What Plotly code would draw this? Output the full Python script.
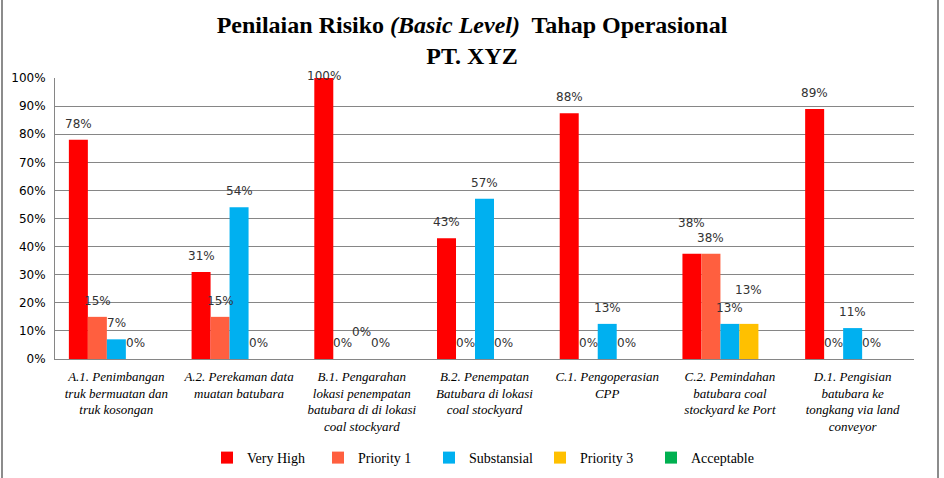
import plotly.graph_objects as go

categories = [
    "A.1. Penimbangan<br>truk bermuatan dan<br>truk kosongan",
    "A.2. Perekaman data<br>muatan batubara",
    "B.1. Pengarahan<br>lokasi penempatan<br>batubara di di lokasi<br>coal stockyard",
    "B.2. Penempatan<br>Batubara di lokasi<br>coal stockyard",
    "C.1. Pengoperasian<br>CPP",
    "C.2. Pemindahan<br>batubara coal<br>stockyard ke Port",
    "D.1. Pengisian<br>batubara ke<br>tongkang via land<br>conveyor",
]
very_high = [0.78, 0.31, 1.00, 0.43, 0.875, 0.375, 0.89]
priority_1 = [0.15, 0.15, 0.0, 0.0, 0.0, 0.375, 0.0]
substansial = [0.07, 0.54, 0.0, 0.57, 0.125, 0.125, 0.11]
priority_3 = [0.0, 0.0, 0.0, 0.0, 0.0, 0.125, 0.0]
acceptable = [None, None, None, None, None, None, None]

series_names = ["Very High", "Priority 1", "Substansial", "Priority 3", "Acceptable"]
series_values = [very_high, priority_1, substansial, priority_3, acceptable]
series_colors = ["#FF0000", "#FF5F3F", "#00B0F0", "#FFC000", "#00B050"]

SERIF = "'Liberation Serif', 'Times New Roman', Times, serif"

# label placement (pixels above bar top); a few labels are staggered as in the source
default_lift = 16
lift_override = {("Very High", 2): 2, ("Substansial", 2): 27,
                 ("Very High", 5): 31, ("Priority 3", 5): 34}

W, H = 944, 478
L, R, T, B = 55, 30, 78, 119
pw, ph = W - L - R, H - T - B
bargap = 0.226
n_series = len(series_names)
bar_px = pw / len(categories) * (1 - bargap) / n_series


def px_x(x):
    return (x - L) / pw


def px_y(y):
    return (H - B - y) / ph


fig = go.Figure()
annotations = []
for si, (name, vals, col) in enumerate(zip(series_names, series_values, series_colors)):
    fig.add_trace(go.Bar(
        name=name, x=categories, y=vals, marker_color=col,
        marker_line_width=0, textposition="none",
    ))
    for ci, v in enumerate(vals):
        if v is None:
            continue
        annotations.append(dict(
            x=categories[ci], y=v, xref="x", yref="y",
            text=f"{round(v * 100 + 1e-9):.0f}%", showarrow=False,
            xshift=(si - (n_series - 1) / 2) * bar_px,
            yshift=lift_override.get((name, ci), default_lift),
            xanchor="center", yanchor="middle",
            font=dict(family="DejaVu Sans", size=12, color="#333333"),
        ))

fig.update_layout(
    width=W, height=H,
    margin=dict(l=L, r=R, t=T, b=B, autoexpand=False),
    paper_bgcolor="white", plot_bgcolor="white",
    barmode="group", bargap=bargap, bargroupgap=0,
    title=dict(
        text="<b>Penilaian Risiko <i>(Basic Level)</i>  Tahap Operasional<br>PT. XYZ</b>",
        x=0.5, xanchor="center", y=1 - 33 / H, yanchor="top", yref="container",
        font=dict(family=SERIF, size=24, color="#000000"),
    ),
    legend=dict(
        orientation="h", x=0.5, xanchor="center", y=px_y(458), yanchor="middle",
        font=dict(family=SERIF, size=14, color="#000000"),
        entrywidth=66, entrywidthmode="pixels", traceorder="normal",
    ),
    xaxis=dict(
        showgrid=False, showline=True, linecolor="#868686", linewidth=1,
        tickfont=dict(family=SERIF, size=13, color="#000000", style="italic"),
        tickangle=0, automargin=False, ticklabelstandoff=5,
    ),
    yaxis=dict(
        range=[0, 1], tickvals=[i / 10 for i in range(11)], tickformat=".0%",
        showgrid=True, gridcolor="#868686", gridwidth=1,
        showline=True, linecolor="#868686", linewidth=1,
        zeroline=False, automargin=False,
        tickfont=dict(family="DejaVu Sans", size=12, color="#000000"),
        ticklabelstandoff=6,
    ),
    annotations=annotations,
    shapes=[dict(
        type="rect", xref="paper", yref="paper",
        x0=px_x(2), x1=px_x(938), y0=px_y(482), y1=px_y(-4),
        line=dict(color="#8C8C8C", width=2), fillcolor="rgba(0,0,0,0)",
        layer="below",
    )],
)

fig.write_html("out.html")
